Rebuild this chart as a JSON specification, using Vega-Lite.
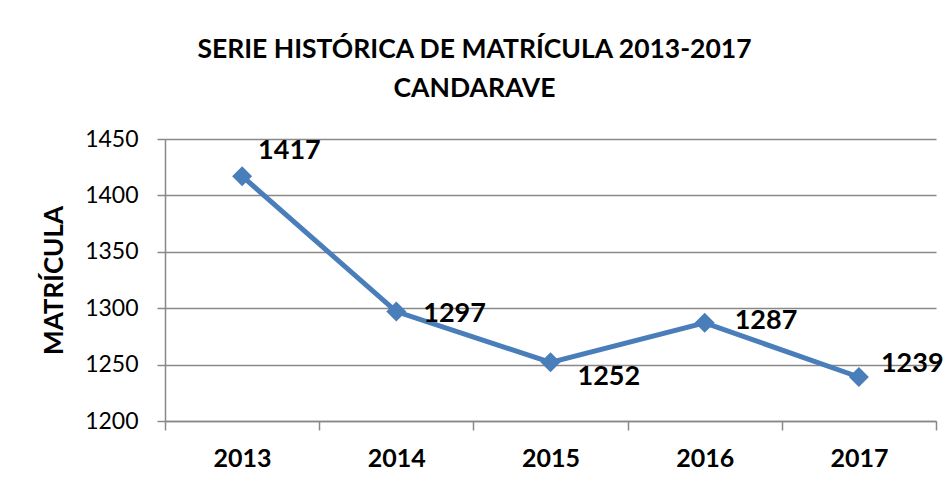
{
  "$schema": "https://vega.github.io/schema/vega-lite/v6.json",
  "autosize": {"type": "none"},
  "width": 771,
  "height": 282,
  "padding": {"left": 165, "top": 139, "right": 16, "bottom": 68},
  "background": "white",
  "title": {
    "text": ["SERIE HISTÓRICA DE MATRÍCULA 2013-2017", "CANDARAVE"],
    "anchor": "middle",
    "dx": -76,
    "font": "Lato",
    "fontSize": 26.5,
    "fontWeight": "bold",
    "color": "black",
    "lineHeight": 39,
    "offset": 26
  },
  "data": {
    "values": [
      {"year": "2013", "matricula": 1417},
      {"year": "2014", "matricula": 1297},
      {"year": "2015", "matricula": 1252},
      {"year": "2016", "matricula": 1287},
      {"year": "2017", "matricula": 1239}
    ]
  },
  "encoding": {
    "x": {
      "field": "year",
      "type": "nominal",
      "scale": {"paddingInner": 0, "paddingOuter": 0},
      "axis": {
        "title": null,
        "labelAngle": 0,
        "tickBand": "extent",
        "tickSize": 9,
        "labelPadding": 16,
        "labelFont": "Lato",
        "labelFontSize": 25,
        "labelFontWeight": "bold",
        "labelColor": "black",
        "domainColor": "#898989",
        "domainWidth": 1.5,
        "tickColor": "#898989",
        "tickWidth": 1.5,
        "grid": false
      }
    },
    "y": {
      "field": "matricula",
      "type": "quantitative",
      "scale": {"domain": [1200, 1450], "nice": false, "zero": false},
      "axis": {
        "title": "MATRÍCULA",
        "titleFont": "Lato",
        "titleFontSize": 26,
        "titleFontWeight": "bold",
        "titleColor": "black",
        "titlePadding": 17,
        "values": [1200, 1250, 1300, 1350, 1400, 1450],
        "format": "d",
        "tickSize": 8,
        "labelPadding": 19,
        "labelFont": "Lato",
        "labelFontSize": 23,
        "labelColor": "black",
        "domainColor": "#898989",
        "domainWidth": 1.5,
        "tickColor": "#898989",
        "tickWidth": 1.5,
        "grid": true,
        "gridColor": "#898989",
        "gridWidth": 1.5
      }
    }
  },
  "layer": [
    {"mark": {"type": "line", "color": "#4A7EBB", "strokeWidth": 5}},
    {"mark": {"type": "point", "shape": "diamond", "filled": true, "size": 400, "color": "#4A7EBB", "opacity": 1}},
    {
      "transform": [{"filter": "datum.year == '2013'"}],
      "mark": {"type": "text", "align": "left", "baseline": "middle", "dx": 16, "dy": -25, "font": "Lato", "fontSize": 27, "fontWeight": "bold", "color": "black"},
      "encoding": {"text": {"field": "matricula", "type": "quantitative", "format": "d"}}
    },
    {
      "transform": [{"filter": "datum.year == '2014'"}],
      "mark": {"type": "text", "align": "left", "baseline": "middle", "dx": 27, "dy": 2, "font": "Lato", "fontSize": 27, "fontWeight": "bold", "color": "black"},
      "encoding": {"text": {"field": "matricula", "type": "quantitative", "format": "d"}}
    },
    {
      "transform": [{"filter": "datum.year == '2015'"}],
      "mark": {"type": "text", "align": "left", "baseline": "middle", "dx": 27, "dy": 15, "font": "Lato", "fontSize": 27, "fontWeight": "bold", "color": "black"},
      "encoding": {"text": {"field": "matricula", "type": "quantitative", "format": "d"}}
    },
    {
      "transform": [{"filter": "datum.year == '2016'"}],
      "mark": {"type": "text", "align": "left", "baseline": "middle", "dx": 30, "dy": -2, "font": "Lato", "fontSize": 27, "fontWeight": "bold", "color": "black"},
      "encoding": {"text": {"field": "matricula", "type": "quantitative", "format": "d"}}
    },
    {
      "transform": [{"filter": "datum.year == '2017'"}],
      "mark": {"type": "text", "align": "left", "baseline": "middle", "dx": 22, "dy": -13, "font": "Lato", "fontSize": 27, "fontWeight": "bold", "color": "black"},
      "encoding": {"text": {"field": "matricula", "type": "quantitative", "format": "d"}}
    }
  ],
  "config": {"view": {"stroke": null}}
}
